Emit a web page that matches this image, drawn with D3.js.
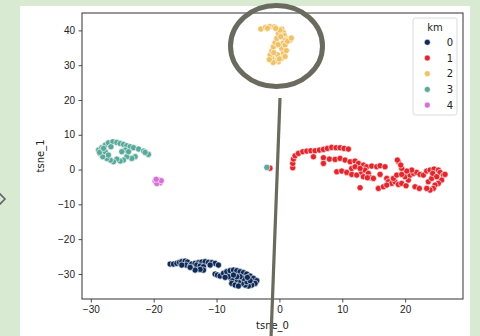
<!DOCTYPE html>
<html>
<head>
<meta charset="utf-8">
<script src="https://cdn.jsdelivr.net/npm/d3@7"></script>
<style>
  body { margin: 0; background: #d9ead3; }
  svg { display: block; }
</style>
</head>
<body>
<div id="chart"></div>
<script>
// cluster labels and their colours (seaborn style palette)
var clusters = ["0", "1", "2", "3", "4"];
var clusterColors = ["#0e2b58", "#e2262d", "#f0c266", "#58a99a", "#d66fd6"];

var xTicks = [-30, -20, -10, 0, 10, 20];
var yTicks = [-30, -20, -10, 0, 10, 20, 30, 40];

// tsne_0 / tsne_1 per cluster
var tsne0_km0 = [-17.38, -16.85, -16.32, -15.9, -15.53, -15.0, -14.62, -14.84, -14.2, -13.67, -13.94, -13.41, -12.88, -12.35, -11.82, -11.29, -10.76, -10.23, -9.7, -13.14, -12.61, -12.08, -12.08, -12.61, -13.41, -14.2, -15.53, -11.02,
  -10.23, -9.86, -9.43, -8.9, -8.37, -7.84, -7.31, -6.78, -6.25, -5.72, -5.19, -4.66, -4.13, -3.6, -3.87, -4.4, -4.93, -5.46, -5.99, -6.52, -7.05, -7.58, -8.1, -8.64, -7.58, -7.05, -6.52, -5.19, -4.66, -5.72, -6.25, -6.78, -7.31, -5.09];
var tsne1_km0 = [-27.15, -27.15, -26.96, -26.67, -26.48, -26.29, -26.58, -27.44, -27.73, -28.11, -27.15, -26.96, -26.77, -26.58, -26.48, -26.67, -26.77, -26.96, -27.44, -27.44, -27.73, -27.92, -28.88, -28.69, -28.88, -28.11, -27.44, -27.44,
  -30.03, -30.31, -30.6, -29.83, -29.36, -29.07, -28.88, -29.07, -29.36, -29.64, -30.03, -30.6, -31.27, -31.94, -32.71, -33.19, -33.47, -33.19, -32.71, -32.23, -31.94, -31.56, -30.79, -30.98, -32.71, -33.19, -33.47, -32.23, -31.94, -31.27, -30.79, -30.79, -30.31, -30.98];

var tsne0_km1 = [-1.5, 2.12, 2.12, 2.23, 2.49, 3.02, 3.71, 4.35, 4.99, 5.67, 6.36, 7.0, 7.63, 8.32, 9.01, 9.65, 10.28, 10.97,
  5.41, 7.0, 7.95, 8.85, 9.65, 10.44, 11.24, 12.03, 12.56, 13.36, 13.89, 14.68, 15.48, 16.01, 16.8,
  7.0, 9.12, 9.91, 10.71, 11.5, 12.3, 13.09, 13.62, 14.15, 14.42, 14.95, 16.01, 17.07, 17.33, 17.86, 18.39, 18.92, 19.45, 20.14, 20.51, 19.98, 20.78, 21.31, 21.84, 22.37, 22.9, 23.43, 23.96, 24.59, 25.28, 25.55, 26.08, 26.34, 25.81, 25.28, 24.75, 24.49, 23.96, 23.43, 23.69, 24.22, 24.38, 25.02, 21.04, 20.25, 19.45, 18.92, 18.76, 19.29, 12.83, 15.74, 16.54, 17.07, 21.57, 22.26, 18.13, 18.66, 19.45, 11.5, 12.03, 12.83, 13.36, 13.99];
var tsne1_km1 = [0.4, 0.52, 1.77, 3.01, 3.97, 4.64, 5.12, 5.31, 5.41, 5.41, 5.6, 5.79, 6.08, 6.37, 6.27, 6.27, 6.08, 5.89,
  3.68, 3.4, 3.01, 2.92, 3.2, 2.73, 2.25, 2.44, 1.77, 1.29, 0.81, 1.0, 0.81, 1.1, 0.81,
  1.77, -0.63, -0.43, -0.82, -1.39, -1.58, -0.82, -0.15, -1.1, -2.35, -2.54, -1.39, -2.54, -3.5, -3.98, -3.5, -4.27, -3.98, -4.65, -3.02, -2.06, -1.58, -1.1, -0.82, -1.39, -1.58, -0.43, -0.15, 0.14, -0.15, -0.82, -1.58, -1.39, -3.02, -3.98, -4.46, -5.42, -5.9, -5.42, -3.5, -2.54, -1.1, -2.06, -0.15, -0.43, 0.33, 2.25, 2.73, 1.29, -5.22, -5.42, -4.94, -4.46, -4.94, -5.42, -2.54, -1.58, -1.39, 0.33, 0.81, 0.33, -2.06, -2.35];

var tsne0_km2 = [-2.96, -2.2, -1.5, -0.8, 0.38, 0.64, 0.8, 1.17, 1.7, 0.9, 0.54, 0.38, 0.64, 0.38, -0.16, -0.68, -1.2, -1.48, -1.2, -0.95, -0.68, -0.41, -0.16, 0.1,
  -1.9, 0.9, 1.3, -0.3, 0.0, -1.0, 0.9, 0.2, -0.6, -1.6, -0.9, 1.1, 1.9, -0.2];
var tsne1_km2 = [40.4, 40.9, 41.1, 41.0, 40.4, 39.4, 38.5, 37.5, 37.2, 37.2, 36.3, 34.8, 33.4, 32.0, 31.0, 31.2, 32.0, 32.9, 34.1, 35.3, 36.5, 37.7, 39.1, 40.1,
  40.6, 35.8, 36.9, 33.0, 31.8, 30.8, 32.5, 38.2, 40.6, 31.6, 33.6, 34.2, 37.8, 35.9];

var tsne0_km3 = [-28.77, -28.5, -28.25, -27.7, -27.2, -26.5, -25.86, -25.33, -24.8, -24.27, -23.74, -23.2, -22.4, -21.6, -20.83, -21.36, -22.95, -23.48, -24.27, -24.8, -25.33, -25.86, -26.4, -26.9, -27.45, -28.1, -28.6, -27.7, -27.2, -24.5, -25.07, -24.0, -27.98, -26.8, -2.0];
var tsne1_km3 = [5.6, 4.65, 6.28, 7.04, 7.7, 8.0, 7.8, 7.5, 7.23, 6.85, 6.56, 6.28, 5.9, 5.32, 4.36, 4.94, 3.7, 3.2, 3.7, 2.73, 2.45, 3.0, 2.25, 2.73, 3.2, 3.7, 4.94, 5.13, 4.17, 5.6, 5.13, 5.13, 6.1, 6.56, 0.63];

var tsne0_km4 = [-19.77, -19.24, -18.97, -19.5, -18.8, -19.6];
var tsne1_km4 = [-3.3, -3.0, -3.8, -4.0, -3.2, -2.8];

var tsne0 = [tsne0_km0, tsne0_km1, tsne0_km2, tsne0_km3, tsne0_km4];
var tsne1 = [tsne1_km0, tsne1_km1, tsne1_km2, tsne1_km3, tsne1_km4];

function DrawTsneScatter(){
    var W = 480, H = 336;
    var plot = {left: 82, right: 463, top: 13, bottom: 299};

    var svg = d3.select("#chart").append("svg")
        .attr("width", W)
        .attr("height", H)
        .style("font-family", "DejaVu Sans, sans-serif");

    // page backdrop + white card
    svg.append("rect").attr("width", W).attr("height", H).attr("fill", "#d9ead3");
    svg.append("rect").attr("x", 20).attr("y", 6).attr("width", 450).attr("height", H - 6).attr("fill", "#ffffff");

    // little chevron on left edge
    svg.append("path")
        .attr("d", "M-1,193 L5,199 L-1,205")
        .attr("fill", "none")
        .attr("stroke", "#666")
        .attr("stroke-width", 1.6);

    var x = d3.scaleLinear().domain([-31.4, 29.2]).range([plot.left, plot.right]);
    var y = d3.scaleLinear().domain([-37.2, 45]).range([plot.bottom, plot.top]);

    var fmt = function(d){ return d < 0 ? "\u2212" + Math.abs(d) : "" + d; };

    var xAxis = d3.axisBottom(x).tickValues(xTicks).tickFormat(fmt).tickSize(3.5).tickPadding(3.5);
    var yAxis = d3.axisLeft(y).tickValues(yTicks).tickFormat(fmt).tickSize(3.5).tickPadding(3.5);

    var gx = svg.append("g")
        .attr("transform", "translate(0," + plot.bottom + ")")
        .call(xAxis);
    var gy = svg.append("g")
        .attr("transform", "translate(" + plot.left + ",0)")
        .call(yAxis);
    [gx, gy].forEach(function(g){
        g.select(".domain").remove();
        g.selectAll("line").attr("stroke", "#222").attr("stroke-width", 0.8);
        g.selectAll("text").attr("fill", "#222").style("font-size", "10px");
    });

    // spines
    svg.append("rect")
        .attr("x", plot.left)
        .attr("y", plot.top)
        .attr("width", plot.right - plot.left)
        .attr("height", plot.bottom - plot.top)
        .attr("fill", "none")
        .attr("stroke", "#333")
        .attr("stroke-width", 1);

    svg.append("text")
        .attr("x", (plot.left + plot.right) / 2)
        .attr("y", 329)
        .attr("text-anchor", "middle")
        .attr("fill", "#222")
        .style("font-size", "10px")
        .text("tsne_0");

    svg.append("text")
        .attr("transform", "translate(44," + ((plot.top + plot.bottom) / 2) + ") rotate(-90)")
        .attr("text-anchor", "middle")
        .attr("fill", "#222")
        .style("font-size", "10px")
        .text("tsne_1");

    // points
    var pts = [];
    for (let k = 0; k < clusters.length; k++) {
        for (let i = 0; i < tsne0[k].length; i++) {
            pts.push({k: k, x: tsne0[k][i], y: tsne1[k][i]});
        }
    }
    svg.append("g").selectAll("circle")
        .data(pts)
        .enter()
        .append("circle")
        .attr("cx", function(d){ return x(d.x); })
        .attr("cy", function(d){ return y(d.y); })
        .attr("r", 3.1)
        .attr("fill", function(d){ return clusterColors[d.k]; })
        .attr("stroke", "#ffffff")
        .attr("stroke-width", 0.6);

    // legend
    var lg = svg.append("g");
    lg.append("rect")
        .attr("x", 413).attr("y", 18)
        .attr("width", 44).attr("height", 97)
        .attr("rx", 2.5)
        .attr("fill", "#fff")
        .attr("fill-opacity", 0.8)
        .attr("stroke", "#d0d0d0")
        .attr("stroke-width", 0.8);
    lg.append("text")
        .attr("x", 435).attr("y", 30.5)
        .attr("text-anchor", "middle")
        .attr("fill", "#222")
        .style("font-size", "10px")
        .text("km");
    var item = lg.selectAll("g.item")
        .data(clusters)
        .enter()
        .append("g")
        .attr("class", "item")
        .attr("transform", function(d, i){ return "translate(0," + (42.3 + i * 15.7) + ")"; });
    item.append("circle")
        .attr("cx", 427.3).attr("cy", 0)
        .attr("r", 3)
        .attr("fill", function(d, i){ return clusterColors[i]; })
        .attr("stroke", "#fff")
        .attr("stroke-width", 0.6);
    item.append("text")
        .attr("x", 453).attr("y", 3.6)
        .attr("text-anchor", "end")
        .attr("fill", "#222")
        .style("font-size", "10px")
        .text(function(d){ return d; });

    // callout ring + pointer line drawn on top
    svg.append("ellipse")
        .attr("cx", 276.5).attr("cy", 46)
        .attr("rx", 46).attr("ry", 40.5)
        .attr("fill", "none")
        .attr("stroke", "#6a6a5e")
        .attr("stroke-width", 5);
    svg.append("line")
        .attr("x1", 280).attr("y1", 98)
        .attr("x2", 271).attr("y2", 338)
        .attr("stroke", "#6a6a5e")
        .attr("stroke-width", 3.2);
}

DrawTsneScatter();
</script>
</body>
</html>
